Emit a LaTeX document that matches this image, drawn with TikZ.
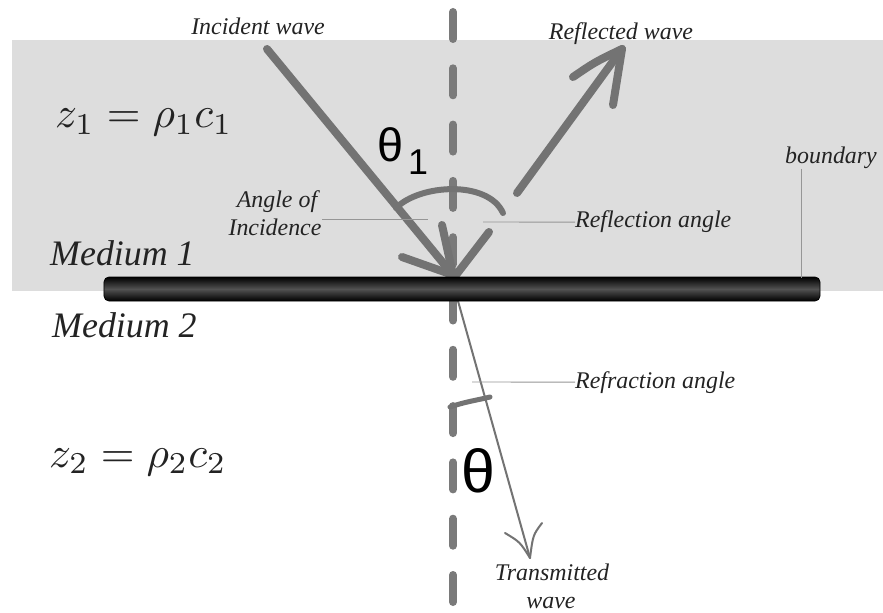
\documentclass[tikz,border=0pt]{standalone}
\usepackage{graphicx}
\usepackage{fontspec}
\setmainfont{Liberation Serif}
\newfontfamily\sansf{Liberation Sans}
\definecolor{bandc}{RGB}{221,221,221}
\definecolor{wavec}{RGB}{115,115,115}
\definecolor{dashc}{RGB}{122,122,122}
\definecolor{leadc}{RGB}{150,150,150}
\definecolor{txtc}{RGB}{35,35,35}
\tikzset{
  wave/.style={draw=wavec, line width=8bp, line cap=round, line join=round},
  thinwave/.style={draw=wavec, line width=2bp, line cap=round, line join=round},
  arcline/.style={draw=wavec, line width=6bp, line cap=round},
  normalline/.style={draw=dashc, line width=8bp, line cap=round, dash pattern=on 27bp off 29.3bp},
  leader/.style={draw=leadc, line width=0.9bp},
  lbl/.style={font=\fontsize{24}{28}\selectfont\itshape, inner sep=0pt, text=txtc},
  medlbl/.style={font=\fontsize{36}{40}\selectfont\itshape, inner sep=0pt, text=txtc},
  eqlbl/.style={inner sep=0pt, text=txtc},
  anglbl/.style={inner sep=0pt, text=black},
  barbox/.style={rounded corners=5bp, top color=black, bottom color=black, middle color=black!68, draw=black, line width=0.8bp, minimum width=716bp, minimum height=24bp, inner sep=0pt}
}
\begin{document}
\begin{tikzpicture}[x=1bp,y=-1bp]
\useasboundingbox (0,0) rectangle (883,613);
\fill[white] (0,0) rectangle (883,613);
% medium 1 band
\fill[bandc] (12,40) rectangle (883,291);

% normal (dashed)
\coordinate (ntop) at (453,12);
\coordinate (nbot) at (453,613);
\draw[normalline] (ntop) -- (nbot);

% incident wave
\coordinate (istart) at (267,49);
\coordinate (itip) at (453,275);
\coordinate (iarmL) at (402,257);
\coordinate (iarmR) at (442,225);
\draw[wave] (istart) -- (itip);
\draw[wave] (iarmL) -- (itip) -- (iarmR);

% reflected wave
\coordinate (rbase) at (456,275);
\coordinate (rgap1) at (489,232);
\coordinate (rgap2) at (517,193);
\coordinate (rtip) at (622,49);
\coordinate (rarmL) at (573,77);
\coordinate (rarmR) at (613,105);
\draw[wave] (rbase) -- (rgap1);
\draw[wave] (rgap2) -- (rtip);
\draw[wave] (rarmL) .. controls (595,62) .. (rtip) -- (rarmR);

% angle of incidence / reflection arc
\coordinate (a1L) at (396,208);
\coordinate (a1R) at (503,213);
\draw[arcline] (a1L) .. controls (420,184) and (488,180) .. (a1R);

% transmitted wave
\coordinate (tstart) at (458,301);
\coordinate (ttip) at (530,558);
\coordinate (tarmL) at (505,533);
\coordinate (tarmR) at (542,523);
\draw[thinwave] (tstart) -- (ttip);
\draw[thinwave] (tarmL) .. controls (520,542) .. (ttip) .. controls (533,535) .. (tarmR);

% refraction arc
\coordinate (a2L) at (450,407);
\coordinate (a2R) at (490,397);
\draw[draw=wavec, line width=5bp, line cap=round] (a2L) .. controls (464,402) and (478,400) .. (a2R);

% boundary bar
\node[barbox] (bar) at (462,289) {};

% labels
\node[lbl, anchor=base] (inc) at (258,35) {Incident wave};
\node[lbl, anchor=base] (refw) at (621,40) {Reflected wave};
\node[lbl, anchor=base] (aoi1) at (277,208) {Angle of};
\node[lbl, anchor=base] (aoi2) at (275,236) {Incidence};
\node[lbl, anchor=base west] (refa) at (575,228) {Reflection angle};
\node[lbl, anchor=base west] (bnd) at (785,164) {boundary};
\node[lbl, anchor=base west] (fra) at (575,388) {Refraction angle};
\node[lbl, anchor=base] (tr1) at (552,580) {Transmitted};
\node[lbl, anchor=base] (tr2) at (551,608) {wave};
\node[medlbl, anchor=base west] (m1) at (50,265) {Medium 1};
\node[medlbl, anchor=base west] (m2) at (52,337) {Medium 2};
\node[eqlbl, anchor=base west] (z1) at (55,128) {\scalebox{4.35}{$z_1=\rho_1c_1$}};
\node[eqlbl, anchor=base west] (z2) at (49,467) {\scalebox{4.35}{$z_2=\rho_2c_2$}};
\node[anglbl, font=\sansf\fontsize{47}{50}\selectfont, anchor=base west] (th1) at (377,162) {θ};
\node[anglbl, font=\sansf\fontsize{36}{40}\selectfont, anchor=base west] (th1s) at (408,175) {1};
\node[anglbl, font=\sansf\fontsize{61}{64}\selectfont, anchor=base west] (th2) at (461,492) {θ};

% leader lines
\coordinate (aoiL) at (322,219);
\coordinate (aoiR) at (428,219);
\draw[leader] (aoiL) -- (aoiR);
\coordinate (reflL) at (483,222);
\draw[leader] (reflL) -- (refa.west);
\coordinate (fraL) at (472,382);
\draw[leader] (fraL) -- (fra.west);
\coordinate (bndT) at (801,169);
\coordinate (bndB) at (801,278);
\draw[leader] (bndT) -- (bndB);
\end{tikzpicture}
\end{document}
